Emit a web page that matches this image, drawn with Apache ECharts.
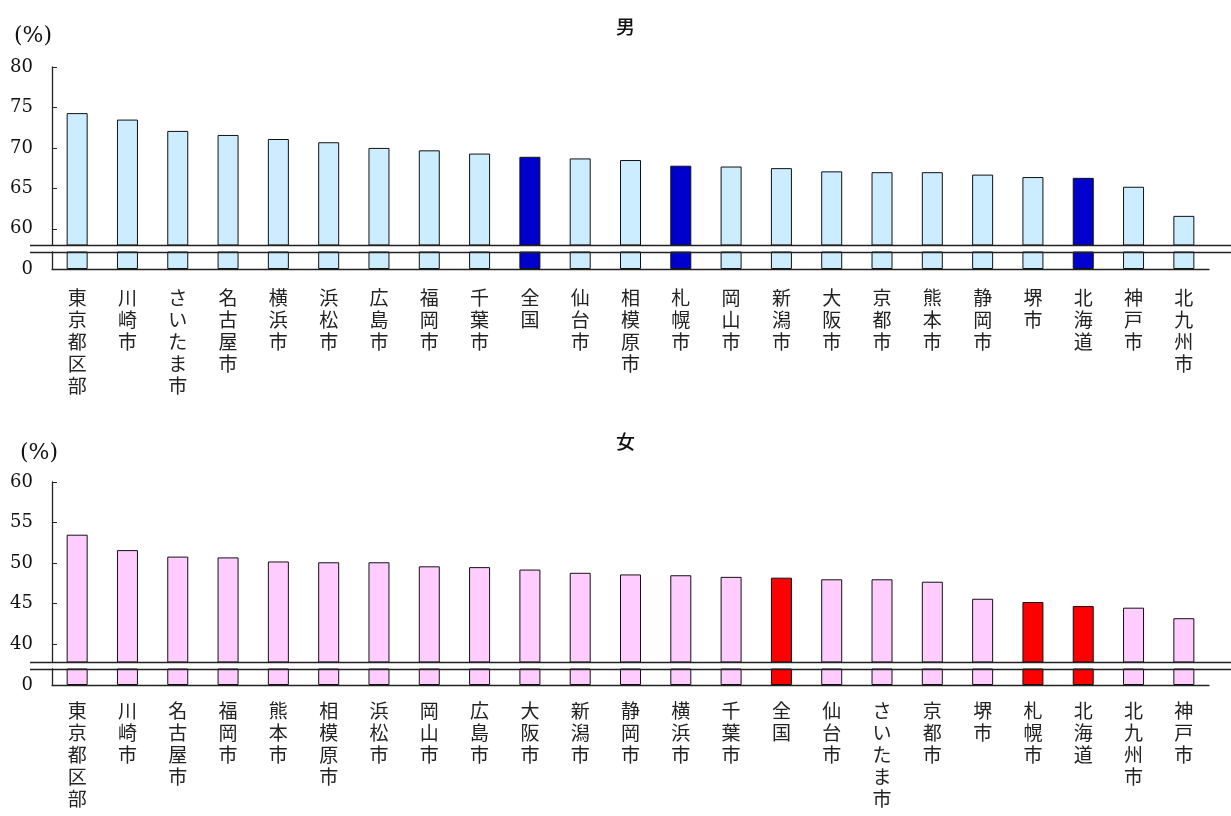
<!DOCTYPE html>
<html>
<head>
<meta charset="utf-8">
<script src="https://cdn.jsdelivr.net/npm/echarts@6/dist/echarts.min.js"></script>
<style>html,body{margin:0;padding:0;background:#fff;}#c{width:1231px;height:816px;}</style>
</head>
<body>
<div id="c"></div>
<script>
// ---- data ----
const maleCategories = ['東京都区部','川崎市','さいたま市','名古屋市','横浜市','浜松市','広島市','福岡市','千葉市','全国','仙台市','相模原市','札幌市','岡山市','新潟市','大阪市','京都市','熊本市','静岡市','堺市','北海道','神戸市','北九州市'];
const maleValues = [74.3,73.5,72.1,71.6,71.1,70.7,70.0,69.7,69.3,68.9,68.7,68.5,67.8,67.7,67.5,67.1,67.0,67.0,66.7,66.4,66.3,65.2,61.6];
const femaleCategories = ['東京都区部','川崎市','名古屋市','福岡市','熊本市','相模原市','浜松市','岡山市','広島市','大阪市','新潟市','静岡市','横浜市','千葉市','全国','仙台市','さいたま市','京都市','堺市','札幌市','北海道','北九州市','神戸市'];
const femaleValues = [53.5,51.6,50.8,50.7,50.2,50.1,50.1,49.6,49.5,49.2,48.8,48.6,48.5,48.3,48.2,48.0,48.0,47.7,45.6,45.2,44.7,44.5,43.2];
const highlighted = ['全国','札幌市','北海道'];
const maleTicks = [60,65,70,75,80];
const femaleTicks = [40,45,50,55,60];

// ---- layout ----
const L = 52, R = 22;
const panels = [
  {upTop:67, upBottom:245, lowTop:252, lowBottom:269, min:58, max:80, ticks:maleTicks, cats:maleCategories, vals:maleValues, light:'#CCECFF', dark:'#0000CC', title:'男', titleY:12, pctY:25, pctX:14, labMargin:18},
  {upTop:482, upBottom:662, lowTop:669, lowBottom:685, min:37.8, max:60, ticks:femaleTicks, cats:femaleCategories, vals:femaleValues, light:'#FFCCFF', dark:'#FF0000', title:'女', titleY:427, pctY:442, pctX:20, labMargin:15}
];
const numFont = 'DejaVu Serif';
const cjkFont = '"Noto Sans CJK JP"';

const grid = [], xAxis = [], yAxis = [], series = [], graphic = [], title = [];
panels.forEach((p, i) => {
  const gu = grid.length;
  grid.push({left:L, right:R, top:p.upTop, height:p.upBottom - p.upTop});
  grid.push({left:L, right:R, top:p.lowTop, height:p.lowBottom - p.lowTop});
  xAxis.push({type:'category', gridIndex:gu, data:p.cats, axisLine:{show:false}, axisTick:{show:false}, axisLabel:{show:false}});
  xAxis.push({type:'category', gridIndex:gu+1, data:p.cats,
    axisLine:{show:true, lineStyle:{color:'#222', width:1.3}}, axisTick:{show:false},
    axisLabel:{interval:0, margin:p.labMargin, fontFamily:cjkFont, fontSize:19, lineHeight:22, color:'#222',
      verticalAlign:'top', formatter: v => v.split('').join('\n')}});
  yAxis.push({type:'value', gridIndex:gu, min:p.min, max:p.max, splitLine:{show:false},
    axisLine:{show:true, lineStyle:{color:'#222', width:1.3}},
    axisTick:{show:true, inside:true, length:5, customValues:p.ticks, lineStyle:{color:'#222'}},
    axisLabel:{customValues:p.ticks, margin:19, fontFamily:numFont, fontSize:18, color:'#111'}});
  yAxis.push({type:'value', gridIndex:gu+1, min:0, max:2, splitLine:{show:false},
    axisLine:{show:true, lineStyle:{color:'#222', width:1.3}},
    axisTick:{show:false},
    axisLabel:{customValues:[0], margin:19, fontFamily:numFont, fontSize:18, color:'#111', verticalAlign:'middle'}});
  const data = p.vals.map((v, k) => ({value:v, itemStyle:{color: highlighted.includes(p.cats[k]) ? p.dark : p.light}}));
  [gu, gu+1].forEach(ax => series.push({type:'bar', xAxisIndex:ax, yAxisIndex:ax, data:data, barWidth:21, clip:true,
    itemStyle:{borderColor:'#111', borderWidth:1}, silent:true, animation:false}));
  // axis break lines
  [p.upBottom, p.lowTop].forEach(y => graphic.push({type:'line', shape:{x1:30, y1:y+0.5, x2:1231, y2:y+0.5}, style:{stroke:'#222', lineWidth:1.3}, z:100}));
  graphic.push({type:'text', left:p.pctX, top:p.pctY, style:{text:'(%)', font:'22px "DejaVu Serif"', fill:'#111'}});
  title.push({text:p.title, left:611, top:p.titleY, textStyle:{fontFamily:cjkFont, fontSize:19, fontWeight:500, color:'#111'}});
});

const chart = echarts.init(document.getElementById('c'));
chart.setOption({animation:false, backgroundColor:'#fff', title, grid, xAxis, yAxis, series, graphic});
</script>
</body>
</html>
